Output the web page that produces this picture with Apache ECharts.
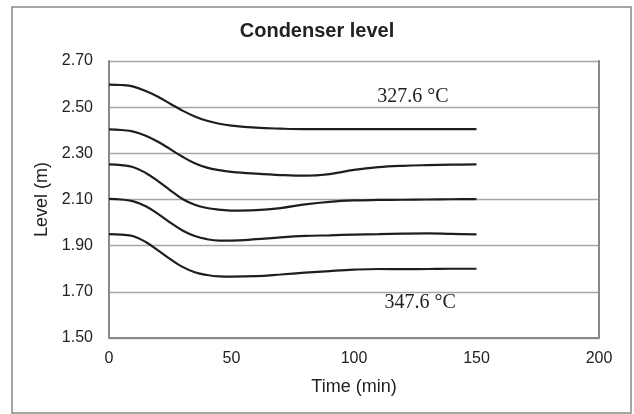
<!DOCTYPE html>
<html>
<head>
<meta charset="utf-8">
<script src="https://cdn.jsdelivr.net/npm/echarts@6/dist/echarts.min.js"></script>
<style>
  html, body { margin: 0; padding: 0; background: #fff; }
  #chart { width: 634px; height: 414px; }
</style>
</head>
<body>
<div id="chart"></div>
<script>
// time axis (min)
const times = [0, 5, 10, 15, 20, 25, 30, 35, 40, 45, 50, 60, 70, 80, 90, 100, 110, 120, 130, 140, 150]

// condenser level (m), top curve = 327.6 °C, bottom curve = 347.6 °C
const level1 = [2.598, 2.596, 2.589, 2.570, 2.545, 2.515, 2.485, 2.460, 2.441, 2.428, 2.420, 2.411, 2.407, 2.405, 2.405, 2.405, 2.405, 2.405, 2.405, 2.405, 2.405]
const level2 = [2.404, 2.401, 2.394, 2.376, 2.350, 2.318, 2.285, 2.257, 2.238, 2.227, 2.220, 2.212, 2.206, 2.203, 2.210, 2.228, 2.240, 2.246, 2.249, 2.251, 2.252]
const level3 = [2.252, 2.249, 2.240, 2.215, 2.180, 2.140, 2.102, 2.077, 2.063, 2.056, 2.052, 2.054, 2.063, 2.079, 2.090, 2.096, 2.098, 2.099, 2.100, 2.101, 2.102]
const level4 = [2.103, 2.100, 2.092, 2.071, 2.038, 2.000, 1.966, 1.942, 1.928, 1.922, 1.922, 1.928, 1.936, 1.942, 1.945, 1.948, 1.950, 1.952, 1.953, 1.951, 1.949]
const level5 = [1.950, 1.948, 1.941, 1.916, 1.880, 1.842, 1.808, 1.785, 1.773, 1.767, 1.766, 1.768, 1.775, 1.783, 1.790, 1.796, 1.799, 1.798, 1.799, 1.800, 1.800]

const xTicks = [0, 50, 100, 150, 200]
const yTicks = [1.5, 1.7, 1.9, 2.1, 2.3, 2.5, 2.7]

// temperature notes [time, level, text]
const notes = [
  [124, 2.545, '327.6 °C'],
  [127, 1.651, '347.6 °C']
]

const sans = 'Liberation Sans, Arial, sans-serif'
const serif = 'Liberation Serif, Times New Roman, serif'

const chart = echarts.init(document.getElementById('chart'))

const allLevels = [level1, level2, level3, level4, level5]

const series = allLevels.map((vals, i) => ({
  type: 'line',
  smooth: 0.4,
  symbol: 'none',
  data: times.map((t, k) => [t, vals[k]]),
  lineStyle: { color: '#1e1e1e', width: 2.2 },
  silent: true,
  markPoint: i === 0 ? {
    symbol: 'circle',
    symbolSize: 0,
    data: notes.map(n => ({
      coord: [n[0], n[1]],
      label: {
        show: true,
        position: 'inside',
        formatter: n[2],
        fontFamily: serif,
        fontSize: 20,
        color: '#222'
      }
    }))
  } : undefined
}))

const option = {
  animation: false,
  backgroundColor: '#fff',
  title: {
    text: 'Condenser level',
    left: 'center',
    top: 16,
    textStyle: { fontFamily: sans, fontSize: 20, fontWeight: 'bold', color: '#222' }
  },
  grid: { left: 109, right: 35, top: 61, bottom: 76 },
  xAxis: {
    type: 'value',
    min: xTicks[0],
    max: xTicks[xTicks.length - 1],
    interval: 50,
    name: 'Time (min)',
    nameLocation: 'middle',
    nameGap: 40,
    nameTextStyle: { fontFamily: sans, fontSize: 18, color: '#222' },
    axisLine: { show: true, lineStyle: { color: '#888', width: 2 } },
    axisTick: { show: false },
    splitLine: { show: false },
    axisLabel: { fontFamily: sans, fontSize: 16, color: '#222', margin: 13 }
  },
  yAxis: [{
    type: 'value',
    min: yTicks[0],
    max: yTicks[yTicks.length - 1],
    interval: 0.2,
    name: 'Level (m)',
    nameLocation: 'middle',
    nameGap: 55,
    nameRotate: 90,
    nameTextStyle: { fontFamily: sans, fontSize: 18, color: '#222' },
    axisLine: { show: true, lineStyle: { color: '#888', width: 2 } },
    axisTick: { show: false },
    splitLine: { show: true, lineStyle: { color: '#a6a6a6', width: 1.3 } },
    axisLabel: {
      fontFamily: sans, fontSize: 16, color: '#222', margin: 16,
      formatter: v => v.toFixed(2)
    }
  }, {
    type: 'value',
    position: 'right',
    min: yTicks[0],
    max: yTicks[yTicks.length - 1],
    interval: 0.2,
    axisLine: { show: true, lineStyle: { color: '#888', width: 2 } },
    axisTick: { show: false },
    axisLabel: { show: false },
    splitLine: { show: false }
  }],
  graphic: [{
    type: 'rect',
    shape: { x: 12, y: 7, width: 619, height: 406 },
    style: { fill: 'none', stroke: '#888', lineWidth: 1.5 },
    silent: true
  }],
  series: series
}

chart.setOption(option)
window.addEventListener('resize', () => chart.resize())
</script>
</body>
</html>
